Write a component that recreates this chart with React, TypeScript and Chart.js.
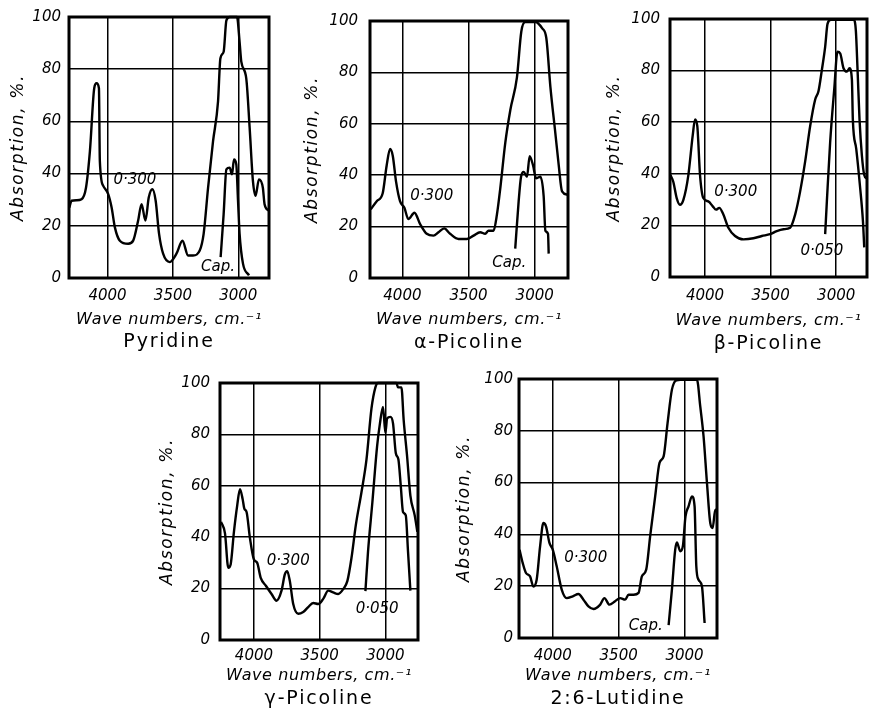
import React, { useEffect, useRef } from "react";
import { Chart, registerables } from "chart.js";

Chart.register(...registerables);

// ---------- tick labels ----------
const waveTicks = [4000, 3500, 3000];
const absTicks = [0, 20, 40, 60, 80, 100];

// ---------- Pyridine ----------
const pyridine300Wave = [4293, 4275, 4237, 4199, 4165, 4135, 4102, 4084, 4066, 4059, 4033, 3995, 3969, 3944, 3906, 3842, 3804, 3766, 3740, 3710, 3685, 3657, 3632, 3606, 3575, 3524, 3473, 3427, 3384, 3346, 3295, 3265, 3231, 3193, 3155, 3137, 3112, 3091, 3066, 3010, 2990, 2977, 2939, 2913, 2888, 2868, 2842, 2812, 2799, 2767];
const pyridine300Abs = [27, 29.6, 29.8, 30.2, 34.6, 48.6, 72.7, 74.6, 72.7, 44.8, 35.3, 32.1, 27, 19.4, 14.3, 13.1, 14.3, 22, 28.3, 22, 30.8, 34, 29.6, 16.9, 9.3, 6.1, 9.3, 14.3, 8.6, 8.6, 10.5, 16.9, 34.6, 52.4, 67.6, 84.1, 86.7, 98.7, 100, 100, 90.5, 82.9, 76.5, 57.5, 37.2, 31.5, 37.8, 34.6, 28.3, 25.8];
const pyridineCapWave = [3135, 3112, 3091, 3066, 3048, 3033, 3015, 3002, 2990, 2964, 2918];
const pyridineCapAbs = [8, 24.5, 41.6, 42.3, 39.7, 45.4, 43.5, 29.6, 16.9, 5.5, 1];

// ---------- alpha-Picoline ----------
const alpha300Wave = [4240, 4194, 4149, 4119, 4093, 4073, 4048, 4018, 3985, 3955, 3909, 3866, 3816, 3765, 3727, 3684, 3639, 3576, 3513, 3462, 3412, 3374, 3349, 3311, 3285, 3260, 3222, 3184, 3134, 3101, 3071, 2995, 2944, 2912, 2881, 2844, 2818, 2793, 2750];
const alpha300Abs = [26.7, 29.9, 33, 43.8, 50.2, 47.6, 37.5, 29.9, 27.3, 22.9, 25.4, 21, 17.2, 16.5, 17.8, 19.3, 17.2, 15.2, 15.2, 16.5, 17.8, 17.2, 18.4, 18.4, 24.8, 34.9, 52.7, 65.4, 78.1, 95.9, 99.6, 99.6, 97.2, 93.4, 74.3, 56.5, 43.8, 33.7, 32.4];
const alphaCapWave = [3147, 3121, 3103, 3083, 3058, 3038, 3012, 2990, 2957, 2932, 2919, 2899, 2894];
const alphaCapAbs = [11.4, 29.9, 39.4, 41.3, 39.4, 47.4, 43.8, 38.8, 39.4, 31.8, 18.4, 17.2, 9.5];

// ---------- beta-Picoline ----------
const beta300Wave = [4264, 4242, 4216, 4191, 4165, 4127, 4094, 4076, 4059, 4038, 4013, 3975, 3941, 3916, 3891, 3860, 3822, 3771, 3707, 3631, 3567, 3504, 3453, 3402, 3351, 3313, 3275, 3237, 3198, 3160, 3135, 3109, 3084, 3066, 3041, 2867, 2850, 2837, 2822, 2804, 2786, 2768];
const beta300Abs = [39.5, 36.9, 30.6, 28, 29.9, 39.5, 54.8, 61.1, 58.6, 39.5, 30.6, 29.3, 27.4, 26.1, 26.8, 24.2, 19.1, 15.9, 14.6, 15, 15.9, 16.6, 17.8, 18.5, 19.1, 24.2, 33.1, 44.6, 58.6, 68.8, 72, 80.3, 89.2, 98.1, 99.7, 99.7, 95.5, 80.3, 61.1, 47.1, 39.5, 38.2];
const beta050Wave = [3084, 3071, 3046, 3015, 2990, 2969, 2944, 2919, 2898, 2880, 2873, 2847, 2817, 2796, 2786];
const beta050Abs = [16.6, 29.3, 52.2, 72.6, 87.3, 86.6, 80.9, 79.6, 80.9, 76.4, 61.1, 49.7, 34.4, 21.7, 11.5];

// ---------- gamma-Picoline ----------
const gamma300Wave = [4250, 4220, 4195, 4177, 4152, 4127, 4106, 4086, 4073, 4056, 4030, 4000, 3975, 3949, 3909, 3866, 3828, 3790, 3765, 3747, 3727, 3701, 3663, 3625, 3587, 3549, 3511, 3473, 3435, 3397, 3359, 3321, 3289, 3258, 3225, 3182, 3144, 3106, 3076, 3056, 2916, 2904, 2878, 2861, 2835, 2810, 2777, 2757];
const gamma300Abs = [46, 41.5, 28.1, 29.4, 42.1, 52.4, 58.7, 54.9, 51.1, 49.8, 39.6, 31.3, 30, 24.3, 21.1, 17.9, 15.3, 19.2, 25.5, 26.8, 23, 14, 10.2, 10.9, 12.8, 14.4, 14, 16, 19.2, 18.5, 17.9, 19.8, 23, 31.9, 44.7, 57.5, 70.2, 90, 98.3, 100, 100, 98.3, 98.3, 85.6, 71.5, 56.2, 48.5, 42.1];
const gamma050Wave = [3152, 3132, 3099, 3063, 3043, 3018, 3000, 2987, 2962, 2942, 2921, 2901, 2883, 2866, 2845, 2828, 2810];
const gamma050Abs = [19, 34.5, 53.6, 75.4, 83.7, 90.7, 80.5, 86.2, 86.8, 84.3, 72.8, 70.2, 60, 49.8, 48.5, 34.5, 19.2];

// ---------- 2:6-Lutidine ----------
const lutidine300Wave = [4252, 4228, 4203, 4172, 4147, 4122, 4096, 4071, 4051, 4025, 4000, 3970, 3932, 3894, 3848, 3805, 3767, 3729, 3691, 3640, 3608, 3570, 3527, 3489, 3451, 3425, 3387, 3349, 3324, 3291, 3261, 3223, 3190, 3159, 3129, 3096, 3063, 3033, 2906, 2881, 2856, 2830, 2805, 2787, 2767, 2754];
const lutidine300Abs = [34.1, 29, 25.1, 23.8, 19.9, 22.5, 35.4, 44.4, 43.1, 36.7, 34.1, 27.7, 18.7, 15.4, 16.1, 17, 14.8, 12.2, 11.2, 12.9, 15.4, 12.9, 14.2, 15.4, 14.8, 16.7, 16.7, 17.4, 23.8, 26.4, 39.3, 54.7, 67.6, 70.1, 83, 95.9, 99.5, 99.7, 99.7, 89.4, 77.9, 59.8, 44.4, 42.5, 49.5, 48.9];
const lutidineCapWave = [3121, 3096, 3071, 3058, 3033, 3013, 2993, 2970, 2944, 2924, 2911, 2894, 2868, 2848];
const lutidineCapAbs = [5, 18.7, 34.1, 36.9, 33.5, 35.4, 47, 50.8, 54.7, 50.8, 27.7, 22.5, 19.9, 5.8];

// ---------- panel labels ----------
const compoundNames = ["Pyridine", "α-Picoline", "β-Picoline", "γ-Picoline", "2:6-Lutidine"];
const yAxisTitle = "Absorption, %.";
const xAxisTitle = "Wave numbers, cm.⁻¹";

type Series = { wave: number[]; abs: number[] };
type Note = { text: string; wave: number; abs: number };
type PanelCfg = {
  name: string;
  left: number; top: number; width: number; height: number;
  xMin: number; xMax: number;
  series: Series[];
  notes: Note[];
  yTickPad: number; yTitleOff: number;
  xTickPad: number; xTitleOff: number; nameOff: number;
};

const panels: PanelCfg[] = [
  {
    name: compoundNames[0], left: 69, top: 15, width: 200, height: 263, xMin: 2765, xMax: 4295,
    series: [{ wave: pyridine300Wave, abs: pyridine300Abs }, { wave: pyridineCapWave, abs: pyridineCapAbs }],
    notes: [{ text: "0·300", wave: 3791, abs: 37.5 }, { text: "Cap.", wave: 3155, abs: 4 }],
    yTickPad: 8, yTitleOff: -50, xTickPad: 9, xTitleOff: 42, nameOff: 64,
  },
  {
    name: compoundNames[1], left: 370, top: 15, width: 198, height: 263, xMin: 2748, xMax: 4245,
    series: [{ wave: alpha300Wave, abs: alpha300Abs }, { wave: alphaCapWave, abs: alphaCapAbs }],
    notes: [{ text: "0·300", wave: 3778, abs: 31.8 }, { text: "Cap.", wave: 3192, abs: 5.7 }],
    yTickPad: 12, yTitleOff: -57, xTickPad: 9, xTitleOff: 42, nameOff: 65,
  },
  {
    name: compoundNames[2], left: 670, top: 15, width: 197, height: 262, xMin: 2765, xMax: 4267,
    series: [{ wave: beta300Wave, abs: beta300Abs }, { wave: beta050Wave, abs: beta050Abs }],
    notes: [{ text: "0·300", wave: 3766, abs: 33 }, { text: "0·050", wave: 3109, abs: 10 }],
    yTickPad: 10, yTitleOff: -55, xTickPad: 10, xTitleOff: 44, nameOff: 67,
  },
  {
    name: compoundNames[3], left: 220, top: 379, width: 198, height: 261, xMin: 2752, xMax: 4258,
    series: [{ wave: gamma300Wave, abs: gamma300Abs }, { wave: gamma050Wave, abs: gamma050Abs }],
    notes: [{ text: "0·300", wave: 3739, abs: 30.6 }, { text: "0·050", wave: 3063, abs: 12 }],
    yTickPad: 10, yTitleOff: -52, xTickPad: 7, xTitleOff: 36, nameOff: 59,
  },
  {
    name: compoundNames[4], left: 519, top: 379, width: 198, height: 259, xMin: 2754, xMax: 4256,
    series: [{ wave: lutidine300Wave, abs: lutidine300Abs }, { wave: lutidineCapWave, abs: lutidineCapAbs }],
    notes: [{ text: "0·300", wave: 3750, abs: 30.9 }, { text: "Cap.", wave: 3294, abs: 4.5 }],
    yTickPad: 6, yTitleOff: -54, xTickPad: 9, xTitleOff: 38, nameOff: 61,
  },
];

const FAMILY = "'DejaVu Sans', 'Liberation Sans', sans-serif";
const PAD_L = 74, PAD_T = 15, PAD_R = 3, PAD_B = 80;

function Panel({ cfg }: { cfg: PanelCfg }) {
  const ref = useRef<HTMLCanvasElement>(null);

  useEffect(() => {
    if (!ref.current) return;

    const framePlugin = {
      id: "frame",
      afterDatasetsDraw(chart: any) {
        const { ctx, chartArea: a } = chart;
        ctx.save();
        ctx.strokeStyle = "#000";
        ctx.lineWidth = 3;
        ctx.strokeRect(a.left, a.top, a.right - a.left, a.bottom - a.top);
        ctx.restore();
      },
    };

    const textPlugin = {
      id: "texts",
      afterDraw(chart: any) {
        const { ctx, chartArea: a } = chart;
        const cx = (a.left + a.right) / 2;
        const cy = (a.top + a.bottom) / 2;
        ctx.save();
        ctx.fillStyle = "#000";
        ctx.textAlign = "center";
        ctx.textBaseline = "middle";
        // y title
        ctx.save();
        ctx.translate(a.left + cfg.yTitleOff, cy);
        ctx.rotate(-Math.PI / 2);
        ctx.font = `italic 17px ${FAMILY}`;
        (ctx as any).letterSpacing = "1.6px";
        ctx.fillText(yAxisTitle, 0, 0);
        ctx.restore();
        // x title
        ctx.font = `italic 16px ${FAMILY}`;
        (ctx as any).letterSpacing = "0.6px";
        ctx.fillText(xAxisTitle, cx, a.bottom + cfg.xTitleOff);
        // compound name
        ctx.font = `19px ${FAMILY}`;
        (ctx as any).letterSpacing = "1.8px";
        ctx.fillText(cfg.name, cx, a.bottom + cfg.nameOff);
        // curve notes
        (ctx as any).letterSpacing = "0px";
        ctx.font = `italic 15px ${FAMILY}`;
        const xs = chart.scales.x, ys = chart.scales.y;
        for (const n of cfg.notes) {
          ctx.fillText(n.text, xs.getPixelForValue(n.wave), ys.getPixelForValue(n.abs));
        }
        ctx.restore();
      },
    };

    const chart = new Chart(ref.current, {
      type: "line",
      data: {
        datasets: cfg.series.map((s) => ({
          data: s.wave.map((w, i) => ({ x: w, y: s.abs[i] })),
          borderColor: "#000",
          borderWidth: 2.4,
          pointRadius: 0,
          fill: false,
          cubicInterpolationMode: "monotone" as const,
          clip: false as any,
        })),
      },
      options: {
        responsive: false,
        animation: false,
        devicePixelRatio: 1,
        layout: { padding: { top: PAD_T, right: PAD_R, left: 0, bottom: 0 } },
        plugins: { legend: { display: false }, tooltip: { enabled: false }, title: { display: false } },
        scales: {
          x: {
            type: "linear",
            reverse: true,
            min: cfg.xMin,
            max: cfg.xMax,
            afterBuildTicks: (s: any) => { s.ticks = waveTicks.map((v) => ({ value: v })); },
            afterFit: (s: any) => { s.height = PAD_B; },
            grid: { color: "#000", lineWidth: 1.5, drawTicks: false },
            border: { display: false },
            ticks: {
              color: "#000",
              font: { family: FAMILY, size: 15, style: "italic" },
              padding: cfg.xTickPad,
              maxRotation: 0,
              autoSkip: false,
              callback: (v: any) => String(v),
            },
          },
          y: {
            min: 0,
            max: 100,
            afterBuildTicks: (s: any) => { s.ticks = absTicks.map((v) => ({ value: v })); },
            afterFit: (s: any) => { s.width = PAD_L; },
            grid: { color: "#000", lineWidth: 1.5, drawTicks: false },
            border: { display: false },
            ticks: {
              color: "#000",
              font: { family: FAMILY, size: 15, style: "italic" },
              padding: cfg.yTickPad,
              callback: (v: any) => String(v),
            },
          },
        },
      },
      plugins: [framePlugin, textPlugin],
    });
    return () => chart.destroy();
  }, [cfg]);

  const w = PAD_L + cfg.width + PAD_R;
  const h = PAD_T + cfg.height + PAD_B;
  return (
    <canvas
      ref={ref}
      width={w}
      height={h}
      style={{ position: "absolute", left: cfg.left - PAD_L, top: cfg.top - PAD_T, width: w, height: h }}
    />
  );
}

export default function App() {
  return (
    <div style={{ position: "fixed", left: 0, top: 0, width: 870, height: 716, background: "#fff", overflow: "hidden" }}>
      {panels.map((p) => (
        <Panel key={p.name} cfg={p} />
      ))}
    </div>
  );
}
